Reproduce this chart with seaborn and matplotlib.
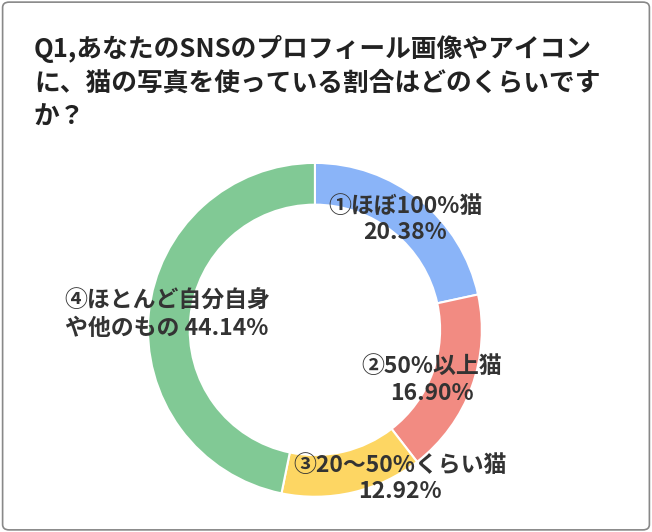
import matplotlib
matplotlib.use("Agg")
import matplotlib.pyplot as plt
import seaborn as sns
from matplotlib.patches import FancyBboxPatch

sns.set_theme(style="white")
plt.rcParams["font.family"] = "Noto Sans CJK JP"

categories = ["①ほぼ100%猫", "②50%以上猫", "③20～50%くらい猫", "④ほとんど自分自身\nや他のもの"]
values = [20.38, 16.90, 12.92, 44.14]
colors = ["#8ab4f8", "#f28b82", "#fdd663", "#81c995"]
title = "Q1,あなたのSNSのプロフィール画像やアイコン\nに、猫の写真を使っている割合はどのくらいです\nか？"

fig = plt.figure(figsize=(6.52, 5.32), dpi=100)
fig.patches.append(FancyBboxPatch((0.004, 0.004), 0.992, 0.992, boxstyle="round,pad=0,rounding_size=0.01",
                                  transform=fig.transFigure, fill=False, edgecolor="#888888", lw=1.2))
fig.text(0.052, 0.935, title, fontsize=18.5, fontweight="bold", va="top", ha="left", color="#222222", linespacing=1.35)

ax = fig.add_axes([0.227, 0.066, 0.512, 0.628])
ax.pie(values, colors=colors, startangle=90, counterclock=False,
       wedgeprops=dict(width=0.25, edgecolor="white", linewidth=1.5), radius=1)
ax.set_xlim(-1, 1); ax.set_ylim(-1, 1); ax.set_aspect("equal")

pos = [(0.54, 0.66, "center"), (0.70, -0.30, "center"), (0.51, -0.89, "center"), (-1.50, 0.09, "left")]
for (x, y, ha), c, v in zip(pos, categories, values):
    if ha == "left":
        txt = f"{c} {v:.2f}%"
    else:
        txt = f"{c}\n{v:.2f}%"
    ax.text(x, y, txt, ha=ha, va="center", fontsize=16.5, fontweight="bold", color="#333333", linespacing=1.2)

fig.savefig("out.png", dpi=100)
